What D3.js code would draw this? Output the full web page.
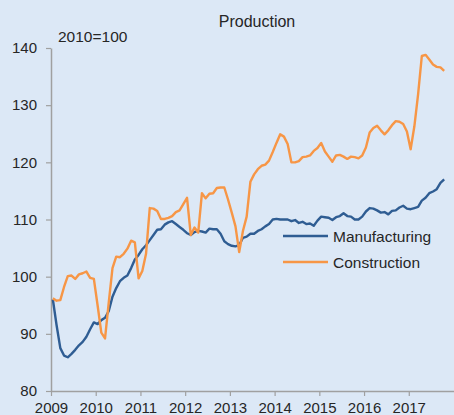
<!DOCTYPE html>
<html>
<head>
<meta charset="utf-8">
<script src="https://cdn.jsdelivr.net/npm/d3@7"></script>
<style>
  html, body { margin: 0; padding: 0; background: #dce8f6; }
  svg { display: block; font-family: "Liberation Sans", Arial, sans-serif; }
</style>
</head>
<body>
<script>
// monthly index, 2010=100, Jan 2009 .. Oct 2017
const manufacturing = [
  96.0, 91.5, 87.5, 86.2, 85.9, 86.5, 87.2, 88.0, 88.6, 89.5, 90.8, 92.0,
  91.7, 92.4, 92.8, 94.0, 96.5, 98.0, 99.2, 99.8, 100.2, 101.5, 103.0, 103.8,
  104.8, 105.5, 106.4, 107.3, 108.2, 108.3, 109.1, 109.5, 109.7, 109.2, 108.7, 108.2,
  107.6, 107.3, 107.8, 108.0, 107.9, 107.7, 108.4, 108.3, 108.3, 107.5, 106.2, 105.7,
  105.4, 105.3, 105.5, 106.8, 107.0, 107.5, 107.5, 108.0, 108.3, 108.8, 109.2, 110.0,
  110.1, 110.0, 110.0, 110.0, 109.7, 109.9, 109.4, 109.6, 109.2, 109.3, 108.9, 109.8,
  110.5, 110.4, 110.3, 109.9, 110.4, 110.6, 111.1, 110.6, 110.5, 110.0, 110.0, 110.5,
  111.4, 112.0, 111.9, 111.6, 111.2, 111.3, 110.9, 111.5, 111.6, 112.1, 112.4, 111.9,
  111.8, 112.0, 112.2, 113.3, 113.8, 114.6, 114.9, 115.3, 116.4, 117.0
];
const construction = [
  96.2, 95.8, 95.9, 98.2, 100.1, 100.2, 99.6, 100.4, 100.6, 100.9, 99.8, 99.6,
  95.0, 90.2, 89.2, 95.5, 101.5, 103.5, 103.4, 104.0, 104.9, 106.3, 106.0, 99.7,
  101.0, 104.0, 112.0, 111.9, 111.5, 110.1, 110.1, 110.3, 110.6, 111.3, 111.6, 112.7,
  113.8, 107.3, 108.6, 107.7, 114.6, 113.7, 114.5, 114.6, 115.5, 115.6, 115.6, 113.5,
  111.2, 108.8, 104.3, 108.0, 110.5, 116.6, 117.9, 118.8, 119.4, 119.6, 120.3, 121.8,
  123.4, 124.9, 124.5, 123.2, 120.0, 120.0, 120.2, 120.9, 121.0, 121.2, 122.0, 122.5,
  123.4, 121.9, 121.0, 120.1, 121.2, 121.3, 121.0, 120.6, 121.0, 120.9, 120.7, 121.2,
  122.6, 125.2, 126.0, 126.4, 125.6, 124.9, 125.6, 126.5, 127.2, 127.1, 126.7, 125.4,
  122.3, 126.3, 131.9, 138.6, 138.8, 138.0, 137.1, 136.7, 136.6, 136.0
];
const startYear = 2009;
const yearTicks = [2009, 2010, 2011, 2012, 2013, 2014, 2015, 2016, 2017];
const valueTicks = [80, 90, 100, 110, 120, 130, 140];
const seriesNames = ["Manufacturing", "Construction"];
const seriesColors = ["#2f5d93", "#f79646"];

window.onload = function () {
  const width = 454;
  const height = 415;

  const svg = d3
    .select("body")
    .append("svg")
    .attr("width", width)
    .attr("height", height);

  svg.append("rect")
    .attr("width", width)
    .attr("height", height)
    .attr("fill", "#dce8f6");

  // scales: x in fractional years, monthly points at mid-month
  const x = d3.scaleLinear().domain([2009, 2018]).range([51, 453.5]);
  const y = d3.scaleLinear().domain([80, 140]).range([391, 48]);
  const monthX = (i) => x(startYear + (i + 0.5) / 12);

  // y axis
  const yAxis = svg
    .append("g")
    .attr("transform", "translate(51,0)")
    .call(d3.axisLeft(y).tickValues(valueTicks).tickSize(5).tickPadding(9).tickSizeOuter(0));
  // x axis
  const xAxis = svg
    .append("g")
    .attr("transform", "translate(0,391)")
    .call(d3.axisBottom(x).tickValues(yearTicks).tickFormat(d3.format("d"))
      .tickSize(5).tickPadding(6).tickSizeOuter(0));

  [yAxis, xAxis].forEach((ax) => {
    ax.select(".domain").attr("stroke", "#a0a0a0").attr("stroke-width", 1.5);
    ax.selectAll(".tick line").attr("stroke", "#a0a0a0").attr("stroke-width", 1.2);
    ax.selectAll(".tick text")
      .attr("fill", "#262626")
      .style("font-size", "15px")
      .style("font-family", "'Liberation Sans', Arial, sans-serif");
  });

  // lines
  const line = d3
    .line()
    .x((d, i) => monthX(i))
    .y((d) => y(d));

  [manufacturing, construction].forEach((series, k) => {
    svg.append("path")
      .datum(series)
      .attr("d", line)
      .attr("fill", "none")
      .attr("stroke", seriesColors[k])
      .attr("stroke-width", 2.4)
      .attr("stroke-linejoin", "round");
  });

  // title and unit note
  svg.append("text")
    .attr("x", 257)
    .attr("y", 26.5)
    .attr("text-anchor", "middle")
    .style("font-size", "16px")
    .attr("fill", "#262626")
    .text("Production");

  svg.append("text")
    .attr("x", 58)
    .attr("y", 42)
    .style("font-size", "15.5px")
    .attr("fill", "#262626")
    .text("2010=100");

  // legend
  const legend = svg.append("g").attr("transform", "translate(283,236)");
  seriesNames.forEach((name, k) => {
    const le = legend.append("g").attr("transform", `translate(0,${k * 26})`);
    le.append("line")
      .attr("x1", 0)
      .attr("x2", 45)
      .attr("y1", 0)
      .attr("y2", 0)
      .attr("stroke", seriesColors[k])
      .attr("stroke-width", 2.4);
    le.append("text")
      .attr("x", 50)
      .attr("y", 5.5)
      .style("font-size", "15.5px")
      .attr("fill", "#262626")
      .text(name);
  });
};
</script>
</body>
</html>
